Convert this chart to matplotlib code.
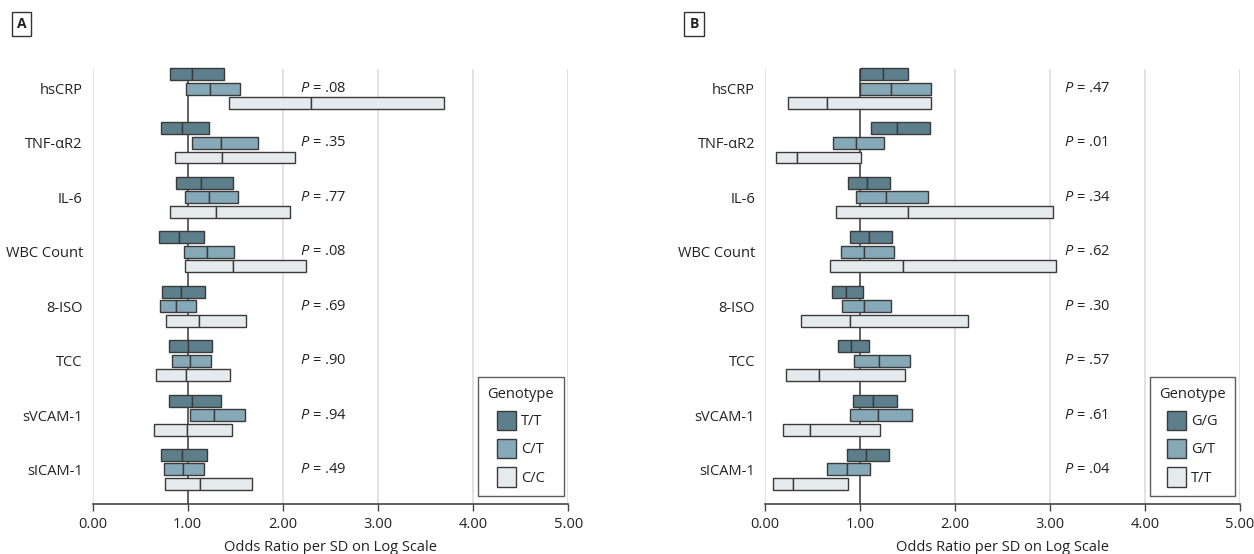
import matplotlib
matplotlib.use("Agg")
import matplotlib.pyplot as plt
from matplotlib.patches import Patch

plt.rcParams['font.family'] = ['Open Sans', 'DejaVu Sans']
plt.rcParams['mathtext.fontset'] = 'custom'
plt.rcParams['mathtext.it'] = 'Open Sans:italic'
plt.rcParams['mathtext.rm'] = 'Open Sans'

markers = ["hsCRP", "TNF-αR2", "IL-6", "WBC Count", "8-ISO", "TCC", "sVCAM-1", "sICAM-1"]

# Panel A: (low, median, high) per genotype
a_genotypes = ["T/T", "C/T", "C/C"]
a_TT = [(0.81, 1.05, 1.38), (0.72, 0.94, 1.22), (0.88, 1.14, 1.48), (0.70, 0.91, 1.17),
        (0.73, 0.93, 1.18), (0.80, 1.00, 1.26), (0.80, 1.05, 1.35), (0.72, 0.94, 1.20)]
a_CT = [(0.98, 1.23, 1.55), (1.04, 1.35, 1.74), (0.97, 1.22, 1.53), (0.96, 1.20, 1.49),
        (0.71, 0.88, 1.09), (0.83, 1.02, 1.24), (1.02, 1.28, 1.60), (0.75, 0.95, 1.17)]
a_CC = [(1.43, 2.30, 3.69), (0.87, 1.36, 2.13), (0.81, 1.30, 2.08), (0.97, 1.48, 2.24),
        (0.77, 1.12, 1.61), (0.67, 0.98, 1.44), (0.65, 0.99, 1.47), (0.76, 1.13, 1.68)]
a_p = [".08", ".35", ".77", ".08", ".69", ".90", ".94", ".49"]

# Panel B
b_genotypes = ["G/G", "G/T", "T/T"]
b_GG = [(1.00, 1.24, 1.51), (1.12, 1.39, 1.74), (0.88, 1.08, 1.32), (0.90, 1.10, 1.34),
        (0.71, 0.86, 1.03), (0.77, 0.91, 1.10), (0.93, 1.14, 1.39), (0.87, 1.07, 1.31)]
b_GT = [(1.00, 1.33, 1.75), (0.72, 0.96, 1.26), (0.96, 1.28, 1.72), (0.80, 1.04, 1.36),
        (0.81, 1.04, 1.33), (0.94, 1.20, 1.53), (0.90, 1.19, 1.55), (0.66, 0.87, 1.11)]
b_TT = [(0.24, 0.66, 1.75), (0.12, 0.34, 1.01), (0.75, 1.51, 3.03), (0.69, 1.46, 3.06),
        (0.38, 0.90, 2.14), (0.22, 0.57, 1.48), (0.19, 0.48, 1.21), (0.09, 0.30, 0.88)]
b_p = [".47", ".01", ".34", ".62", ".30", ".57", ".61", ".04"]

xticks = [0, 1, 2, 3, 4, 5]
xlabel = "Odds Ratio per SD on Log Scale"

colors = ["#5c7f8b", "#86a9b8", "#e5eaec"]
edge = "#3a3a3a"
txt = "#222222"
fs = 10.5

fig = plt.figure(figsize=(12.54, 5.54), dpi=100)
axA = fig.add_axes([0.0738, 0.0897, 0.3794, 0.7858])
axB = fig.add_axes([0.6098, 0.0897, 0.3790, 0.7858])

offset = 0.267
bh = 0.22

def draw(ax, series, genos, pvals, px):
    for k, ser in enumerate(series):
        ys = [i + (k - 1) * offset for i in range(len(markers))]
        lows = [s[0] for s in ser]
        meds = [s[1] for s in ser]
        highs = [s[2] for s in ser]
        for lefts, widths in ((lows, [m - l for l, m in zip(lows, meds)]),
                              (meds, [h - m for m, h in zip(meds, highs)])):
            bars = ax.barh(ys, widths, left=lefts, height=bh, color=colors[k],
                           edgecolor=edge, linewidth=1.0, zorder=3)
            for b in bars:
                b.set_clip_on(False)
    for i, p in enumerate(pvals):
        ax.text(px, i, r"$P$" + " = " + p, fontsize=fs, va="center", ha="left", color=txt)
    ax.set_xlim(0, 5)
    ax.set_ylim(len(markers) - 1 + 0.64, -0.36)
    ax.set_yticks(range(len(markers)))
    ax.set_yticklabels(markers, fontsize=fs, color=txt)
    ax.tick_params(axis="y", length=0, pad=7)
    ax.set_xticks(xticks)
    ax.set_xticklabels(["%.2f" % t for t in xticks], fontsize=fs, color=txt)
    ax.tick_params(axis="x", length=5, width=1, color="#444444", pad=4)
    for t in xticks:
        if t == 1:
            ax.axvline(t, color="#555555", lw=1.3, zorder=2)
        else:
            ax.axvline(t, color="#dddddd", lw=1.2, zorder=1)
    for s in ["top", "right", "left"]:
        ax.spines[s].set_visible(False)
    ax.spines["bottom"].set_color("#444444")
    ax.spines["bottom"].set_linewidth(1.2)
    ax.set_xlabel(xlabel, fontsize=fs, color=txt, labelpad=6)
    handles = [Patch(facecolor=colors[k], edgecolor=edge, label=g) for k, g in enumerate(genos)]
    leg = ax.legend(handles=handles, title="Genotype", loc="lower right",
                    bbox_to_anchor=(0.99, 0.019), fontsize=fs, title_fontsize=fs,
                    frameon=True, fancybox=False, handlelength=1.32, handleheight=1.65,
                    handletextpad=0.35, borderpad=0.65, labelspacing=0.62,
                    borderaxespad=0)
    leg.get_frame().set_edgecolor("#333333")
    leg.get_frame().set_linewidth(1.0)
    leg.get_title().set_color(txt)
    for t in leg.get_texts():
        t.set_color(txt)

draw(axA, [a_TT, a_CT, a_CC], a_genotypes, a_p, 2.18)
draw(axB, [b_GG, b_GT, b_TT], b_genotypes, b_p, 3.15)

for lab, xpix in [("A", 21.5), ("B", 694)]:
    fig.text(xpix / 1254, 1 - 24 / 554, lab, fontsize=10, fontweight="bold",
             ha="center", va="center", color=txt,
             bbox=dict(boxstyle="square,pad=0.35", facecolor="white",
                       edgecolor="#333333", linewidth=1.0))

fig.savefig("out.png", dpi=100)
